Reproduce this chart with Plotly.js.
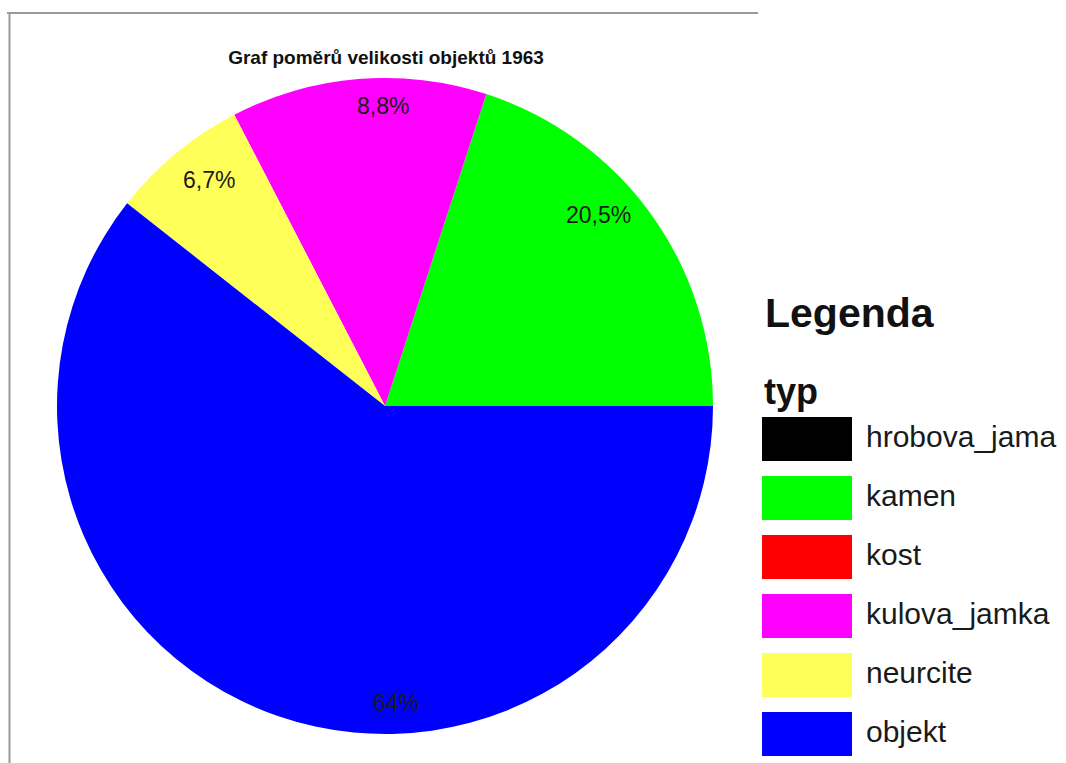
<!DOCTYPE html>
<html>
<head>
<meta charset="utf-8">
<script src="https://cdn.plot.ly/plotly-3.0.1.min.js"></script>
<style>
  html, body { margin: 0; padding: 0; background: #ffffff; }
  #chart { width: 1066px; height: 763px; }
</style>
</head>
<body>
<div id="chart"></div>
<script>
// ---- data ----
var categories = ["hrobova_jama", "kamen", "kost", "kulova_jamka", "neurcite", "objekt"];
var sliceValues = [0, 20.0, 0, 12.6, 6.8, 60.6];          // slice sizes as drawn
var printedLabels = ["", "20,5%", "", "8,8%", "6,7%", "64%"]; // percentages printed on the slices
var sliceColors = ["#000000", "#00ff00", "#ff0000", "#ff00ff", "#ffff5a", "#0000ff"];
var chartTitle = "Graf poměrů velikosti objektů 1963";
var legendTitle = "Legenda";
var legendSubtitle = "typ";

// ---- layout helpers (pixel -> paper) ----
var W = 1066, H = 763;
function px(x) { return x / W; }
function py(y) { return 1 - y / H; }

var cx = 385, cy = 406, R = 328;

var trace = {
  type: "pie",
  labels: categories,
  values: sliceValues,
  sort: false,
  direction: "counterclockwise",
  rotation: 90,
  marker: { colors: sliceColors, line: { width: 0 } },
  textinfo: "none",
  hoverinfo: "none",
  showlegend: false,
  domain: { x: [px(cx - R), px(cx + R)], y: [py(cy + R), py(cy - R)] }
};

// positions of the printed slice labels (pixels)
var labelPos = [null, [598, 215], null, [383, 106], [209, 180], [396, 703]];

var annotations = [];
for (var i = 0; i < categories.length; i++) {
  if (printedLabels[i]) {
    annotations.push({
      xref: "paper", yref: "paper",
      x: px(labelPos[i][0]), y: py(labelPos[i][1]),
      xanchor: "center", yanchor: "middle",
      text: printedLabels[i], showarrow: false,
      font: { family: "Liberation Sans, Arial, sans-serif", size: 23, color: "#1a1a1a" }
    });
  }
}

// custom legend built from the category/colour arrays
var shapes = [];
var swTop = 417, swPitch = 59, swH = 44, swX0 = 762, swX1 = 852;
for (var j = 0; j < categories.length; j++) {
  var t = swTop + j * swPitch;
  shapes.push({
    type: "rect", xref: "paper", yref: "paper",
    x0: px(swX0), x1: px(swX1), y0: py(t + swH), y1: py(t),
    fillcolor: sliceColors[j], line: { width: 0 }
  });
  annotations.push({
    xref: "paper", yref: "paper",
    x: px(864), y: py(t + swH / 2 - 3),
    xanchor: "left", yanchor: "middle",
    text: categories[j], showarrow: false,
    font: { family: "Liberation Sans, Arial, sans-serif", size: 30, color: "#1a1a1a" }
  });
}
annotations.push({
  xref: "paper", yref: "paper", x: px(763), y: py(313),
  xanchor: "left", yanchor: "middle", showarrow: false,
  text: "<b>" + legendTitle + "</b>",
  font: { family: "Liberation Sans, Arial, sans-serif", size: 41, color: "#111111" }
});
annotations.push({
  xref: "paper", yref: "paper", x: px(762), y: py(391),
  xanchor: "left", yanchor: "middle", showarrow: false,
  text: "<b>" + legendSubtitle + "</b>",
  font: { family: "Liberation Sans, Arial, sans-serif", size: 36, color: "#111111" }
});

// thin frame lines at the top and left
shapes.push({ type: "line", xref: "paper", yref: "paper",
  x0: px(7), x1: px(758), y0: py(13), y1: py(13), line: { color: "#9a9a9a", width: 2 } });
shapes.push({ type: "line", xref: "paper", yref: "paper",
  x0: px(9.5), x1: px(9.5), y0: py(13), y1: py(763), line: { color: "#9a9a9a", width: 2 } });

var layout = {
  width: W, height: H,
  margin: { l: 0, r: 0, t: 0, b: 0 },
  paper_bgcolor: "#ffffff",
  plot_bgcolor: "#ffffff",
  title: {
    text: "<b>" + chartTitle + "</b>",
    x: px(386), xanchor: "center", xref: "paper",
    y: py(57), yanchor: "middle", yref: "paper",
    font: { family: "Liberation Sans, Arial, sans-serif", size: 19, color: "#111111" }
  },
  showlegend: false,
  annotations: annotations,
  shapes: shapes
};

Plotly.newPlot("chart", [trace], layout, { displayModeBar: false, staticPlot: true });
</script>
</body>
</html>
